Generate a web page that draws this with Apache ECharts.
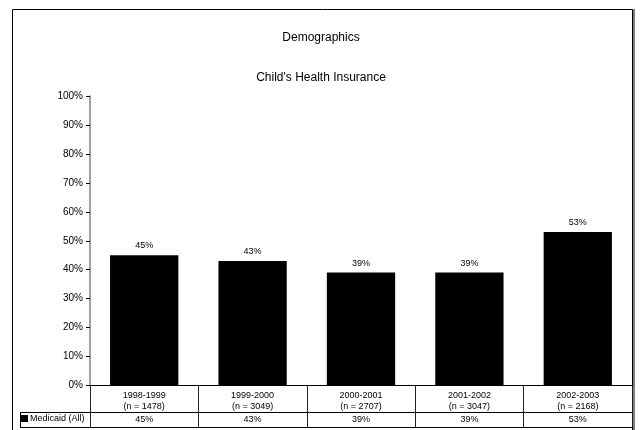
<!DOCTYPE html>
<html>
<head>
<meta charset="utf-8">
<script src="https://cdn.jsdelivr.net/npm/echarts@6/dist/echarts.min.js"></script>
<style>
  html, body { margin: 0; padding: 0; background: #fff; }
  #chart { width: 642px; height: 430px; }
</style>
</head>
<body>
<div id="chart"></div>
<script>
// School years surveyed and their sample sizes
const years = ['1998-1999', '1999-2000', '2000-2001', '2001-2002', '2002-2003'];
const sampleSizes = [1478, 3049, 2707, 3047, 2168];
// Share of children covered by Medicaid, percent
const medicaid = [45, 43, 39, 39, 53];
const seriesName = 'Medicaid (All)';
const yTicks = [0, 10, 20, 30, 40, 50, 60, 70, 80, 90, 100];

const FONT = '"Liberation Sans", Arial, sans-serif';

const categoryLabels = years.map((y, i) => y + '\n(n = ' + sampleSizes[i] + ')');

const chart = echarts.init(document.getElementById('chart'), null, { renderer: 'canvas' });

// grid geometry (px)
const gLeft = 90, gRight = 632, gTop = 96, gBottom = 385.5;
const rowSplit = 412, tableBottom = 427, tableLeft = 20;

chart.setOption({
  animation: false,
  backgroundColor: '#fff',
  textStyle: { fontFamily: FONT },
  title: [
    { text: 'Demographics', left: 'center', top: 27,
      textStyle: { fontSize: 12, fontWeight: 'normal', color: '#000', fontFamily: FONT } },
    { text: "Child's Health Insurance", left: 'center', top: 67,
      textStyle: { fontSize: 12, fontWeight: 'normal', color: '#000', fontFamily: FONT } }
  ],
  legend: {
    left: tableLeft + 1, top: rowSplit + 2,
    icon: 'rect', itemWidth: 7, itemHeight: 7, itemGap: 2,
    padding: 0,
    textStyle: { fontSize: 9, color: '#000', fontFamily: FONT, padding: [0, 0, 0, -3] },
    data: [seriesName]
  },
  grid: { left: gLeft, right: 642 - gRight, top: gTop, bottom: 430 - gBottom, containLabel: false },
  xAxis: [
    {
      type: 'category',
      data: categoryLabels,
      axisLine: { show: true, lineStyle: { color: '#000', width: 1 } },
      axisTick: { show: true, length: tableBottom - gBottom, lineStyle: { color: '#222' } },
      axisLabel: { fontSize: 9, color: '#000', lineHeight: 11, margin: 5, interval: 0, fontFamily: FONT }
    },
    {
      type: 'category',
      position: 'bottom',
      offset: rowSplit - gBottom,
      data: medicaid.map(v => v + '%'),
      axisLine: { show: false },
      axisTick: { show: false },
      axisLabel: { fontSize: 9, color: '#000', margin: 3, interval: 0, fontFamily: FONT }
    }
  ],
  yAxis: {
    type: 'value',
    min: yTicks[0], max: yTicks[yTicks.length - 1], interval: 10,
    axisLine: { show: true, lineStyle: { color: '#808080', width: 1.5 } },
    axisTick: { show: true, length: 4, lineStyle: { color: '#000' } },
    axisLabel: { formatter: '{value}%', fontSize: 10, color: '#000', margin: 7, fontFamily: FONT },
    splitLine: { show: false }
  },
  series: [{
    name: seriesName,
    type: 'bar',
    data: medicaid,
    barCategoryGap: '37%',
    itemStyle: { color: '#000' },
    label: { show: true, position: 'top', distance: 5, formatter: '{c}%',
      fontSize: 9, color: '#000', fontFamily: FONT }
  }],
  graphic: [
    // outer frame
    { type: 'rect', silent: true, shape: { x: 12.5, y: 9.5, width: 620, height: 440 },
      style: { fill: 'none', stroke: '#000', lineWidth: 1 } },
    { type: 'line', silent: true, shape: { x1: 634, y1: 9, x2: 634, y2: 430 },
      style: { stroke: '#555', lineWidth: 1.5 } },
    // data table rules
    { type: 'line', silent: true, shape: { x1: tableLeft, y1: rowSplit + 0.5, x2: gRight, y2: rowSplit + 0.5 },
      style: { stroke: '#000', lineWidth: 1 } },
    { type: 'line', silent: true, shape: { x1: tableLeft, y1: tableBottom + 0.5, x2: gRight, y2: tableBottom + 0.5 },
      style: { stroke: '#000', lineWidth: 1 } },
    { type: 'line', silent: true, shape: { x1: tableLeft + 0.5, y1: rowSplit, x2: tableLeft + 0.5, y2: tableBottom },
      style: { stroke: '#000', lineWidth: 1 } }
  ]
});
</script>
</body>
</html>
